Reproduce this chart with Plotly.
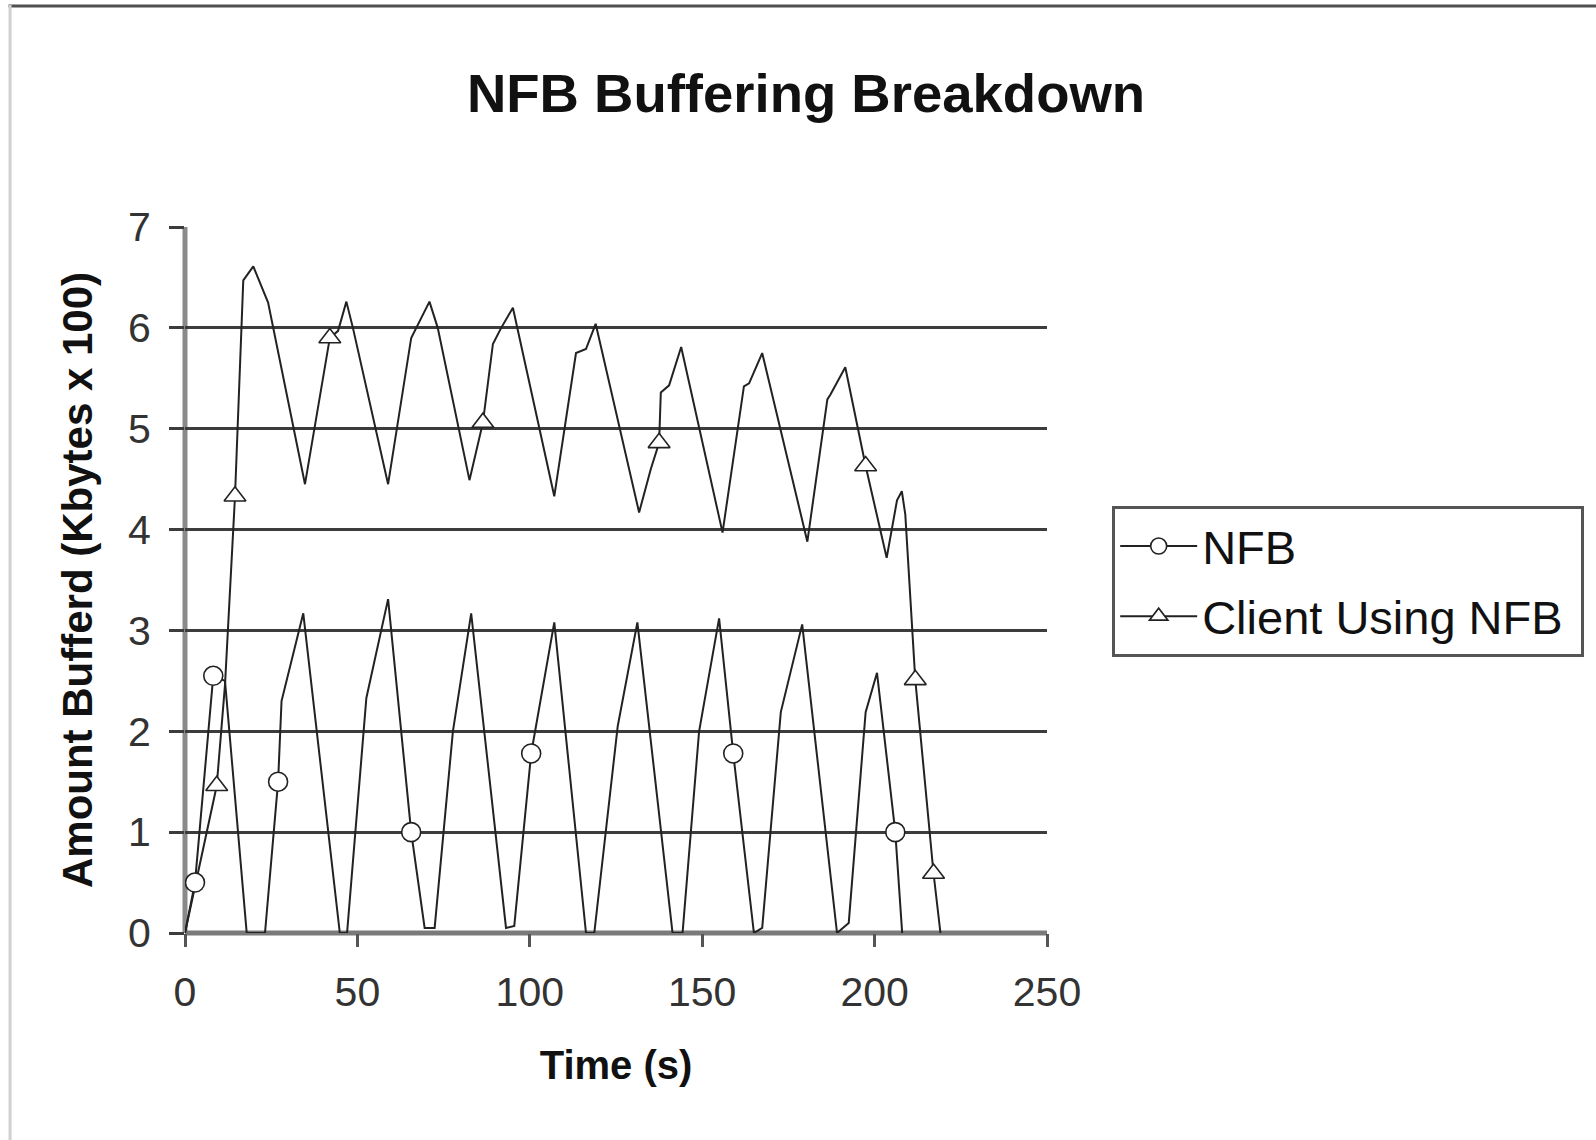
import plotly.graph_objects as go

# ---- data ----
nfb_t = [0, 2.9, 8.2, 11.6, 17.9, 23.2, 27.0, 28.0, 34.3, 44.9, 47.0, 52.6, 58.9, 65.6, 69.5, 72.4,
         77.7, 83.0, 93.1, 95.5, 100.4, 107.1, 116.3, 118.7, 125.5, 131.2, 141.4, 144.3, 149.1,
         154.9, 159.0, 165.0, 167.4, 172.8, 179.0, 189.1, 192.5, 197.4, 200.7, 206.0, 208.0]
nfb_v = [0, 0.5, 2.55, 2.5, 0, 0, 1.5, 2.3, 3.17, 0, 0, 2.33, 3.31, 1.0, 0.05, 0.05,
         2.0, 3.17, 0.05, 0.07, 1.78, 3.08, 0, 0, 2.05, 3.08, 0, 0, 2.0,
         3.12, 1.78, 0, 0.05, 2.19, 3.06, 0, 0.1, 2.19, 2.58, 1.0, 0]
nfb_mark_t = [2.9, 8.2, 27.0, 65.6, 100.4, 159.0, 206.0]
nfb_mark_v = [0.5, 2.55, 1.5, 1.0, 1.78, 1.78, 1.0]

client_t = [0, 9.2, 11.6, 14.5, 16.9, 19.8, 24.1, 34.8, 42.0, 44.4, 46.8, 48.7, 58.9, 65.6, 70.9,
            73.3, 82.5, 86.4, 89.3, 91.7, 95.1, 107.1, 113.4, 116.3, 119.1, 131.7, 135.1, 137.5,
            138.0, 140.4, 143.9, 155.9, 162.1, 163.6, 167.4, 180.5, 186.3, 187.2, 191.5, 197.4,
            203.5, 206.5, 207.9, 208.9, 211.8, 217.1, 219.1]
client_v = [0, 1.46, 2.46, 4.33, 6.47, 6.61, 6.25, 4.45, 5.9, 5.97, 6.26, 6.0, 4.45, 5.9, 6.26,
            6.0, 4.49, 5.06, 5.84, 6.0, 6.2, 4.33, 5.75, 5.79, 6.04, 4.17, 4.6, 4.86,
            5.36, 5.43, 5.81, 3.97, 5.42, 5.45, 5.75, 3.88, 5.29, 5.34, 5.61, 4.63,
            3.72, 4.29, 4.38, 4.15, 2.51, 0.59, 0]
client_mark_t = [9.2, 14.5, 42.0, 86.4, 137.5, 197.4, 211.8, 217.1]
client_mark_v = [1.46, 4.33, 5.9, 5.06, 4.86, 4.63, 2.51, 0.59]

series_names = ["NFB", "Client Using NFB"]
x_ticks = [0, 50, 100, 150, 200, 250]
y_ticks = [0, 1, 2, 3, 4, 5, 6, 7]

FONT = "Liberation Sans, Arial, sans-serif"
LINE_C = "#222222"
MARK = dict(color="white", line=dict(color="#222222", width=1.6))

fig = go.Figure()

# data lines (no legend)
fig.add_trace(go.Scatter(x=nfb_t, y=nfb_v, mode="lines", line=dict(color=LINE_C, width=2),
                         showlegend=False, hoverinfo="skip"))
fig.add_trace(go.Scatter(x=client_t, y=client_v, mode="lines", line=dict(color=LINE_C, width=2),
                         showlegend=False, hoverinfo="skip"))
# markers
fig.add_trace(go.Scatter(x=nfb_mark_t, y=nfb_mark_v, mode="markers",
                         marker=dict(symbol="circle", size=19, **MARK), showlegend=False))
fig.add_trace(go.Scatter(x=client_mark_t, y=client_mark_v, mode="markers",
                         marker=dict(symbol="triangle-up", size=19, **MARK), showlegend=False))
# legend entries
fig.add_trace(go.Scatter(x=[None], y=[None], mode="lines+markers", name=series_names[0],
                         legendgroup="a", line=dict(color=LINE_C, width=2),
                         marker=dict(symbol="circle", size=17, **MARK)))
fig.add_trace(go.Scatter(x=[None], y=[None], mode="lines+markers", name=series_names[1] + "\u00a0",
                         legendgroup="b", line=dict(color=LINE_C, width=2),
                         marker=dict(symbol="triangle-up", size=17, **MARK)))

# plot area px: x 183.3..1046.8, y 227..933
L, R, T, B = 184.5, 1046.8, 227, 933
W, H = 1596, 1140
pw, ph = R - L, B - T

def px_x(X):
    return (X - L) / pw

def px_y(Y):
    return (B - Y) / ph

fig.update_layout(
    width=W, height=H,
    margin=dict(l=L, r=W - R, t=T, b=H - B, pad=0),
    paper_bgcolor="white", plot_bgcolor="white",
    font=dict(family=FONT, color="#111111"),
    title=dict(text="<b>NFB Buffering Breakdown</b>", x=806 / W, xref="container", xanchor="center",
               y=1 - 93 / H, yref="container", yanchor="middle",
               font=dict(size=54.5, family=FONT, color="#111111")),
    xaxis=dict(range=[0, 250], tickvals=x_ticks, ticktext=[str(v) for v in x_ticks],
               showgrid=False, zeroline=False, showline=False,
               ticks="outside", ticklen=13, tickwidth=3, tickcolor="#555555",
               tickfont=dict(size=41, color="#333333"), ticklabelstandoff=10,
               title=dict(text="<b>Time (s)</b>", font=dict(size=40, color="#111111"), standoff=36)),
    yaxis=dict(range=[0, 7], tickvals=y_ticks, ticktext=[str(v) for v in y_ticks],
               showgrid=True, gridcolor="#3c3c3c", gridwidth=3,
               zeroline=False, showline=False,
               ticks="outside", ticklen=15, tickwidth=3, tickcolor="#3c3c3c",
               tickfont=dict(size=41, color="#333333"), ticklabelstandoff=10,
               title=dict(text="<b>Amount Bufferd (Kbytes x 100)</b>", font=dict(size=42, color="#111111"),
                          standoff=22)),
    legend=dict(x=px_x(1112), y=px_y(506), xanchor="left", yanchor="top",
                bordercolor="#555555", borderwidth=3, bgcolor="white",
                font=dict(size=47, family=FONT, color="#111111"),
                traceorder="grouped", tracegroupgap=6, itemwidth=77),
    shapes=[
        # axis lines (centred on x=0 and y=0)
        dict(type="line", xref="paper", yref="paper", x0=0, x1=0, y0=0, y1=1, layer="below",
             line=dict(color="#8a8a8a", width=5)),
        dict(type="line", xref="paper", yref="paper", x0=0, x1=1, y0=0, y1=0, layer="below",
             line=dict(color="#7a7a7a", width=5)),
        # picture frame
        dict(type="line", xref="paper", yref="paper", x0=px_x(8), x1=px_x(1596), y0=px_y(6), y1=px_y(6),
             line=dict(color="#505050", width=3)),
        dict(type="line", xref="paper", yref="paper", x0=px_x(9.5), x1=px_x(9.5), y0=px_y(5), y1=px_y(1140),
             line=dict(color="#d0d0d0", width=3)),
    ],
)

fig.write_html("out.html")
